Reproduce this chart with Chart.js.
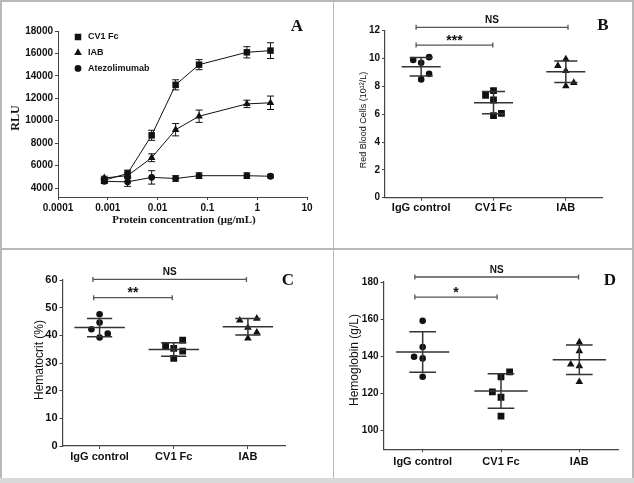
<!DOCTYPE html>
<html>
<head>
<meta charset="utf-8">
<script src="https://cdn.jsdelivr.net/npm/chart.js@4.4.1/dist/chart.umd.min.js"></script>
<style>
body { margin: 0; background: #fff; }
#fig { position: relative; width: 634px; height: 483px; overflow: hidden; background: #fff; }
#fig canvas { position: absolute; left: 0; top: 0; }
.ln { position: absolute; background: #b8b8b8; }
</style>
</head>
<body>
<div id="fig">
    <div class="ln" style="left:0;top:0;width:634px;height:2px"></div>
    <div class="ln" style="left:0;top:0;width:2px;height:483px"></div>
    <div class="ln" style="left:632px;top:0;width:2px;height:483px"></div>
    <div class="ln" style="left:0;top:248px;width:634px;height:2px"></div>
    <div class="ln" style="left:333px;top:0;width:1px;height:483px"></div>
    <div class="ln" style="left:0;top:478px;width:634px;height:5px;background:#d9d9d9"></div>
    <canvas id="panelA" width="634" height="483"></canvas>
    <canvas id="panelB" width="634" height="483"></canvas>
    <canvas id="panelC" width="634" height="483"></canvas>
    <canvas id="panelD" width="634" height="483"></canvas>
</div>
<script>
// panel A: luciferase reporter
var concentration = [0.00085, 0.0025, 0.0076, 0.023, 0.068, 0.62, 1.85];
var cv1Rlu = [4700, 5300, 8700, 13200, 15000, 16100, 16250];
var cv1Err = [200, 300, 450, 450, 450, 500, 700];
var iabRlu = [4900, 5100, 6700, 9200, 10400, 11500, 11600];
var iabErr = [150, 250, 350, 550, 550, 330, 600];
var atezoRlu = [4600, 4550, 4950, 4850, 5100, 5100, 5050];
var atezoErr = [200, 400, 600, 250, 250, 250, 150];
var rluTicks = [4000, 6000, 8000, 10000, 12000, 14000, 16000, 18000];
var concTicks = [0.0001, 0.001, 0.01, 0.1, 1, 10];
var concTickLabels = ['0.0001', '0.001', '0.01', '0.1', '1', '10'];
var seriesNames = ['CV1 Fc', 'IAB', 'Atezolimumab'];

// panels B-D: blood counts
var groups = ['IgG control', 'CV1 Fc', 'IAB'];

var rbcValues = [[9.9, 9.7, 10.1, 8.9, 8.5], [7.36, 7.69, 7.02, 5.89, 6.06], [9.48, 9.96, 9.12, 8.02, 8.26]];
var rbcJitter = [[-0.11, 0, 0.11, 0.11, 0], [-0.11, 0, 0, 0, 0.11], [-0.11, 0, 0, 0, 0.11]];
var rbcMean = [9.41, 6.83, 9.05];
var rbcSd = [0.67, 0.8, 0.78];
var rbcTicks = [0, 2, 4, 6, 8, 10, 12];
var rbcBrackets = [{from: -0.07, to: 2.03, y: 12.24, label: 'NS'}, {from: -0.07, to: 0.99, y: 10.97, label: '***'}];

var hctValues = [[47.6, 44.6, 42.2, 40.6, 39.2], [36.3, 38.3, 35.3, 34.3, 31.7], [45.4, 46.1, 42.8, 41.1, 38.9]];
var hctJitter = [[0, 0, -0.11, 0.11, 0], [-0.11, 0.12, 0, 0.12, 0], [-0.11, 0.12, 0, 0.12, 0]];
var hctMean = [42.8, 34.9, 43.1];
var hctSd = [3.3, 2.45, 2.95];
var hctTicks = [0, 10, 20, 30, 40, 50, 60];
var hctBrackets = [{from: -0.09, to: 1.98, y: 60.2, label: 'NS'}, {from: -0.08, to: 0.98, y: 53.6, label: '**'}];

var hgbValues = [[159.1, 145.0, 139.8, 138.9, 129.0], [131.7, 129.0, 120.9, 118.0, 107.9], [147.6, 142.9, 135.7, 134.8, 126.3]];
var hgbJitter = [[0, 0, -0.11, 0, 0], [0.11, 0, -0.11, 0, 0], [0, 0, -0.11, 0, 0]];
var hgbMean = [142.3, 121.4, 138.2];
var hgbSd = [10.9, 9.25, 7.95];
var hgbTicks = [100, 120, 140, 160, 180];
var hgbBrackets = [{from: -0.1, to: 1.99, y: 182.7, label: 'NS'}, {from: -0.1, to: 0.95, y: 171.9, label: '*'}];

var SANS = "'Liberation Sans', Arial, sans-serif";
var SERIF = "'Liberation Serif', 'Times New Roman', serif";
var INK = '#111';
var AXIS = '#444';

function fixedTicks(list) {
    return function (scale) {
        scale.ticks = list.map(function (v) { return {value: v}; });
    };
}

function plainNumber(v) {
    return String(v);
}

function drawRotated(ctx, text, x, y, font) {
    ctx.save();
    ctx.translate(x, y);
    ctx.rotate(-Math.PI / 2);
    ctx.font = font;
    ctx.textAlign = 'center';
    ctx.textBaseline = 'middle';
    ctx.fillText(text, 0, 0);
    ctx.restore();
}

// Start of panel A
var errorBarsA = {
    id: 'errorBarsA',
    beforeDatasetsDraw: function (chart) {
        var ctx = chart.ctx, xs = chart.scales.x, ys = chart.scales.y;
        var errs = [cv1Err, iabErr, atezoErr];
        ctx.save();
        ctx.strokeStyle = INK;
        ctx.lineWidth = 1;
        chart.data.datasets.forEach(function (ds, d) {
            ds.data.forEach(function (p, i) {
                var x = xs.getPixelForValue(p.x);
                var top = ys.getPixelForValue(p.y + errs[d][i]);
                var bot = ys.getPixelForValue(p.y - errs[d][i]);
                ctx.beginPath();
                ctx.moveTo(x, top); ctx.lineTo(x, bot);
                ctx.moveTo(x - 3.5, top); ctx.lineTo(x + 3.5, top);
                ctx.moveTo(x - 3.5, bot); ctx.lineTo(x + 3.5, bot);
                ctx.stroke();
            });
        });
        ctx.restore();
    },
    afterDraw: function (chart) {
        var ctx = chart.ctx;
        ctx.save();
        ctx.fillStyle = INK;
        var styles = [['rect', 4.6], ['triangle', 4.4], ['circle', 3.4]];
        ctx.font = 'bold 9px ' + SANS;
        ctx.textBaseline = 'middle';
        ctx.textAlign = 'left';
        seriesNames.forEach(function (name, i) {
            var y = 37 + i * 15.7;
            Chart.helpers.drawPoint(ctx, {pointStyle: styles[i][0], radius: styles[i][1], rotation: 0, borderWidth: 0}, 78, y);
            ctx.fillText(name, 88, y);
        });
        ctx.font = 'bold 11px ' + SERIF;
        ctx.textAlign = 'center';
        ctx.fillText('Protein concentration (\u03bcg/mL)', 184, 220);
        drawRotated(ctx, 'RLU', 16, 118, 'bold 12px ' + SERIF);
        ctx.font = 'bold 17px ' + SERIF;
        ctx.fillText('A', 297, 27);
        ctx.restore();
    }
};

function curve(values) {
    return concentration.map(function (c, i) { return {x: c, y: values[i]}; });
}

new Chart(document.getElementById('panelA'), {
    type: 'line',
    data: {
        datasets: [
            {label: seriesNames[0], data: curve(cv1Rlu), pointStyle: 'rect', pointRadius: 4.6},
            {label: seriesNames[1], data: curve(iabRlu), pointStyle: 'triangle', pointRadius: 4.4},
            {label: seriesNames[2], data: curve(atezoRlu), pointStyle: 'circle', pointRadius: 3.4}
        ].map(function (ds) {
            ds.borderColor = INK;
            ds.backgroundColor = INK;
            ds.borderWidth = 1;
            ds.pointBorderWidth = 0;
            ds.tension = 0;
            return ds;
        })
    },
    options: {
        responsive: false,
        animation: false,
        layout: {padding: {left: 18, top: 31, right: 327, bottom: 256}},
        plugins: {legend: {display: false}, tooltip: {enabled: false}},
        scales: {
            x: {
                type: 'logarithmic', min: 0.0001, max: 10,
                afterBuildTicks: fixedTicks(concTicks),
                afterFit: function (s) { s.height = 30; },
                ticks: {
                    callback: function (v) { return concTickLabels[concTicks.indexOf(v)]; },
                    font: {family: SANS, size: 10, weight: 'bold'}, color: INK, padding: 2, maxRotation: 0, autoSkip: false
                },
                grid: {drawOnChartArea: false, tickLength: 3, color: AXIS},
                border: {color: AXIS, width: 1}
            },
            y: {
                type: 'linear', min: 3200, max: 18000,
                afterBuildTicks: fixedTicks(rluTicks),
                afterFit: function (s) { s.width = 40; },
                ticks: {callback: plainNumber, font: {family: SANS, size: 10, weight: 'bold'}, color: INK, padding: 2},
                grid: {drawOnChartArea: false, tickLength: 3, color: AXIS},
                border: {color: AXIS, width: 1}
            }
        }
    },
    plugins: [errorBarsA]
});
// End of panel A

// Start of dot plots
function dotPanel(id, cfg) {
    var styles = [['circle', 3.3], ['rect', 4.8], ['triangle', 4.4]];
    var datasets = cfg.values.map(function (vals, g) {
        return {
            data: vals.map(function (v, i) { return {x: g + cfg.jitter[g][i], y: v}; }),
            pointStyle: styles[g][0],
            pointRadius: styles[g][1],
            backgroundColor: INK,
            borderColor: INK,
            pointBorderWidth: 0
        };
    });

    var decor = {
        id: 'decor',
        afterDatasetsDraw: function (chart) {
            var ctx = chart.ctx, xs = chart.scales.x, ys = chart.scales.y;
            ctx.save();
            ctx.strokeStyle = '#333';
            ctx.lineWidth = 1.5;
            cfg.mean.forEach(function (m, g) {
                var cx = xs.getPixelForValue(g);
                var ym = ys.getPixelForValue(m);
                var yt = ys.getPixelForValue(m + cfg.sd[g]);
                var yb = ys.getPixelForValue(m - cfg.sd[g]);
                ctx.beginPath();
                ctx.moveTo(xs.getPixelForValue(g - cfg.meanHalf), ym);
                ctx.lineTo(xs.getPixelForValue(g + cfg.meanHalf), ym);
                ctx.moveTo(xs.getPixelForValue(g - cfg.sdHalf), yt);
                ctx.lineTo(xs.getPixelForValue(g + cfg.sdHalf), yt);
                ctx.moveTo(xs.getPixelForValue(g - cfg.sdHalf), yb);
                ctx.lineTo(xs.getPixelForValue(g + cfg.sdHalf), yb);
                ctx.moveTo(cx, yt); ctx.lineTo(cx, yb);
                ctx.stroke();
            });
            ctx.restore();
        },
        afterDraw: function (chart) {
            var ctx = chart.ctx, xs = chart.scales.x, ys = chart.scales.y;
            ctx.save();
            cfg.brackets.forEach(function (b) {
                var y = ys.getPixelForValue(b.y);
                var x1 = xs.getPixelForValue(b.from), x2 = xs.getPixelForValue(b.to);
                ctx.strokeStyle = '#555';
                ctx.lineWidth = 1.3;
                ctx.beginPath();
                ctx.moveTo(x1, y); ctx.lineTo(x2, y);
                ctx.moveTo(x1, y - 2.5); ctx.lineTo(x1, y + 2.5);
                ctx.moveTo(x2, y - 2.5); ctx.lineTo(x2, y + 2.5);
                ctx.stroke();
                ctx.fillStyle = INK;
                ctx.textAlign = 'center';
                ctx.textBaseline = 'alphabetic';
                if (b.label === 'NS') {
                    ctx.font = 'bold 10px ' + SANS;
                    ctx.fillText(b.label, (x1 + x2) / 2, y - 4);
                } else {
                    ctx.font = 'bold 14px ' + SANS;
                    ctx.fillText(b.label, (x1 + x2) / 2, y - 0.5);
                }
            });
            ctx.fillStyle = INK;
            drawRotated(ctx, cfg.title, cfg.titleX, cfg.titleY, cfg.titleSize + 'px ' + SANS);
            ctx.font = 'bold 17px ' + SERIF;
            ctx.textAlign = 'center';
            ctx.textBaseline = 'middle';
            ctx.fillText(cfg.letter, cfg.letterX, cfg.letterY);
            ctx.restore();
        }
    };

    return new Chart(document.getElementById(id), {
        type: 'scatter',
        data: {datasets: datasets},
        options: {
            responsive: false,
            animation: false,
            layout: {padding: cfg.pad},
            plugins: {legend: {display: false}, tooltip: {enabled: false}},
            scales: {
                x: {
                    type: 'linear', min: -0.5, max: 2.5,
                    afterBuildTicks: fixedTicks([0, 1, 2]),
                    afterFit: function (s) { s.height = 30; },
                    ticks: {
                        callback: function (v) { return groups[v]; },
                        font: {family: SANS, size: 11, weight: 'bold'}, color: INK, padding: cfg.catPad, maxRotation: 0, autoSkip: false
                    },
                    grid: {drawOnChartArea: false, tickLength: 3, color: AXIS},
                    border: {color: AXIS, width: 1.2}
                },
                y: {
                    type: 'linear', min: cfg.min, max: cfg.max,
                    afterBuildTicks: fixedTicks(cfg.ticks),
                    afterFit: function (s) { s.width = 30; },
                    ticks: {callback: plainNumber, font: {family: SANS, size: cfg.tickSize, weight: 'bold'}, color: INK, padding: 2},
                    grid: {drawOnChartArea: false, tickLength: 3, color: AXIS},
                    border: {color: AXIS, width: 1.2}
                }
            }
        },
        plugins: [decor]
    });
}

dotPanel('panelB', {
    values: rbcValues, jitter: rbcJitter, mean: rbcMean, sd: rbcSd, ticks: rbcTicks, brackets: rbcBrackets,
    min: 0, max: 12, meanHalf: 0.27, sdHalf: 0.16, tickSize: 10, catPad: 1,
    pad: {left: 355, top: 30.7, right: 32, bottom: 255.3},
    title: 'Red Blood Cells (10\u00b9\u00b2/L)', titleX: 364, titleY: 120, titleSize: 9,
    letter: 'B', letterX: 603, letterY: 26
});

dotPanel('panelC', {
    values: hctValues, jitter: hctJitter, mean: hctMean, sd: hctSd, ticks: hctTicks, brackets: hctBrackets,
    min: 0, max: 60, meanHalf: 0.34, sdHalf: 0.17, tickSize: 11, catPad: 1,
    pad: {left: 32.5, top: 280, right: 349, bottom: 7},
    title: 'Hematocrit (%)', titleX: 40, titleY: 360, titleSize: 12,
    letter: 'C', letterX: 288, letterY: 281
});

dotPanel('panelD', {
    values: hgbValues, jitter: hgbJitter, mean: hgbMean, sd: hgbSd, ticks: hgbTicks, brackets: hgbBrackets,
    min: 90, max: 180, meanHalf: 0.34, sdHalf: 0.17, tickSize: 10, catPad: 3,
    pad: {left: 353.5, top: 282, right: 15.5, bottom: 3.7},
    title: 'Hemoglobin (g/L)', titleX: 355, titleY: 360, titleSize: 12,
    letter: 'D', letterX: 610, letterY: 281
});
// End of dot plots
</script>
</body>
</html>
